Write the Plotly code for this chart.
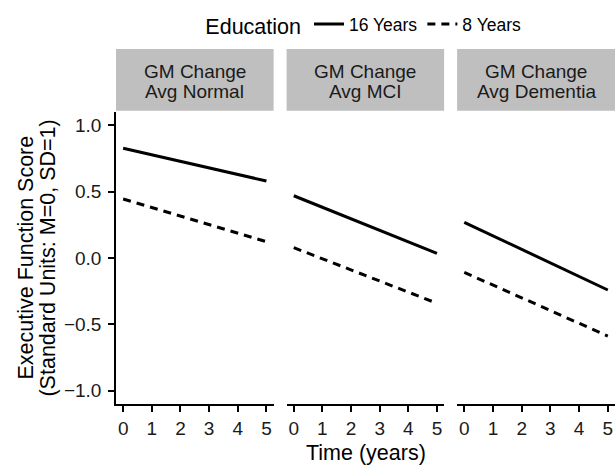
import plotly.graph_objects as go

# ---- data ----
strip_line1 = ["GM Change", "GM Change", "GM Change"]
strip_line2 = ["Avg Normal", "Avg MCI", "Avg Dementia"]
time_years = [0, 5]
edu16_normal = [0.827, 0.580]
edu16_mci = [0.469, 0.035]
edu16_dementia = [0.269, -0.241]
edu8_normal = [0.445, 0.123]
edu8_mci = [0.078, -0.341]
edu8_dementia = [-0.108, -0.588]
y_ticks = [-1.0, -0.5, 0.0, 0.5, 1.0]
y_ticktext = ["\u22121.0", "\u22120.5", "0.0", "0.5", "1.0"]
x_ticks = [0, 1, 2, 3, 4, 5]

edu16 = [edu16_normal, edu16_mci, edu16_dementia]
edu8 = [edu8_normal, edu8_mci, edu8_dementia]

FONT = "Liberation Sans, Arial, Helvetica, sans-serif"
BASE = 21.5
SMALL = 19
LEG = 17.5

W, H = 616, 466
L, T, B = 116, 112, 62
R = W - 615.3
pw = W - L - R
ph = H - T - B


def px(xref):
    return (xref - L) / pw


def py(yref):
    return (H - B - yref) / ph


domains = [
    (0.0, px(273.7)),
    (px(286.7), px(444.3)),
    (px(457.3), 1.0),
]

fig = go.Figure()
for i in range(3):
    xa = "x" if i == 0 else f"x{i+1}"
    ya = "y" if i == 0 else f"y{i+1}"
    fig.add_trace(go.Scatter(
        x=time_years, y=edu16[i], mode="lines", name="16 Years",
        legendgroup="16", showlegend=(i == 0),
        line=dict(color="black", width=3), xaxis=xa, yaxis=ya,
    ))
    fig.add_trace(go.Scatter(
        x=time_years, y=edu8[i], mode="lines", name="8 Years",
        legendgroup="8", showlegend=(i == 0),
        line=dict(color="black", width=3, dash="8px,6px"), xaxis=xa, yaxis=ya,
    ))

axis_common = dict(
    range=[-0.25, 5.25], tickvals=x_ticks, ticks="outside", ticklen=6,
    tickwidth=1.5, tickcolor="black", showline=True, linecolor="black",
    linewidth=1.5, showgrid=False, zeroline=False,
    tickfont=dict(size=SMALL, color="#1a1a1a", family=FONT),
    ticklabelstandoff=0,
)
layout = dict(
    width=W, height=H,
    margin=dict(l=L, r=R, t=T, b=B),
    paper_bgcolor="white", plot_bgcolor="white",
    font=dict(family=FONT, color="black"),
    showlegend=True,
    legend=dict(
        orientation="h", x=px(365), xanchor="center", xref="paper",
        y=py(25), yanchor="middle",
        title=dict(text="Education", font=dict(size=BASE, family=FONT)),
        font=dict(size=LEG, family=FONT),
        bgcolor="rgba(0,0,0,0)", itemwidth=30, tracegroupgap=0,
    ),
)
for i in range(3):
    sfx = "" if i == 0 else str(i + 1)
    layout[f"xaxis{sfx}"] = dict(axis_common, domain=list(domains[i]),
                                 anchor=f"y{sfx}")
    ycfg = dict(range=[-1.1, 1.1], showgrid=False, zeroline=False,
                anchor=f"x{sfx}")
    if i == 0:
        ycfg.update(tickvals=y_ticks, ticktext=y_ticktext, ticks="outside",
                    ticklen=6, tickwidth=1.5, tickcolor="black",
                    showline=True, linecolor="black", linewidth=1.5,
                    tickfont=dict(size=SMALL, color="#1a1a1a", family=FONT),
                    ticklabelstandoff=3)
    else:
        ycfg.update(matches="y", showticklabels=False, ticks="",
                    showline=False)
    layout[f"yaxis{sfx}"] = ycfg
fig.update_layout(**layout)

# facet strips
for i in range(3):
    d0, d1 = domains[i]
    fig.add_shape(type="rect", xref="paper", yref="paper",
                  x0=d0, x1=d1, y0=py(110.7), y1=py(49),
                  fillcolor="#bfbfbf", line=dict(width=0), layer="below")
    for txt, yy in ((strip_line1[i], 71.7), (strip_line2[i], 91.7)):
        fig.add_annotation(text=txt, xref="paper", yref="paper",
                           x=(d0 + d1) / 2, y=py(yy),
                           xanchor="center", yanchor="middle", showarrow=False,
                           font=dict(size=SMALL, family=FONT, color="#1a1a1a"))

# axis titles
fig.add_annotation(text="Time (years)", xref="paper", yref="paper",
                   x=0.5, y=py(453), xanchor="center",
                   yanchor="middle", showarrow=False,
                   font=dict(size=BASE, family=FONT, color="black"))
for txt, xx in (("Executive Function Score", 25.5),
                ("(Standard Units: M=0, SD=1)", 47.5)):
    fig.add_annotation(text=txt, xref="paper", yref="paper",
                       x=px(xx), y=py(258), xanchor="center", yanchor="middle",
                       textangle=-90, showarrow=False,
                       font=dict(size=BASE, family=FONT, color="black"))

fig.write_html(
    "out.html",
    config={"displayModeBar": False},
    post_script="document.body.style.margin='0';document.body.style.overflow='hidden';",
)
